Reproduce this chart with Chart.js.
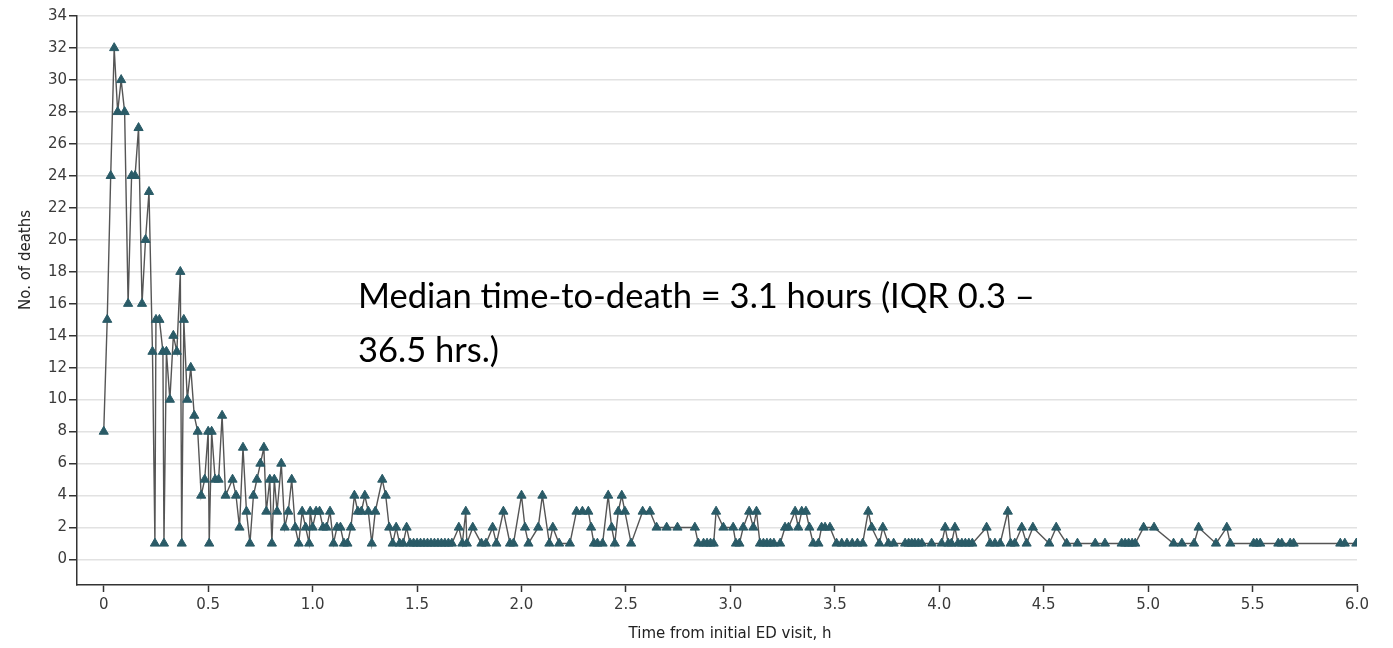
<!DOCTYPE html>
<html>
<head>
<meta charset="utf-8">
<script src="https://cdn.jsdelivr.net/npm/chart.js@4.4.1/dist/chart.umd.min.js"></script>
<style>
  html, body { margin: 0; padding: 0; background: #ffffff; }
  #wrap { position: relative; width: 1393px; height: 648px; }
  #note {
    position: absolute; left: 358px; top: 268px;
    font-family: Lato, "Open Sans", sans-serif; font-size: 34.5px; line-height: 54px;
    color: #000; white-space: nowrap;
  }
  .axis-title {
    position: absolute; white-space: nowrap; color: #222;
    font-family: "DejaVu Sans", sans-serif; font-size: 15px; line-height: 18px;
  }
  #ytitle { left: 25px; top: 260px; transform: translate(-50%, -50%) rotate(-90deg); }
  #xtitle { left: 730px; top: 633px; transform: translate(-50%, -50%); }
</style>
</head>
<body>
<div id="wrap">
  <canvas id="c" width="1393" height="648"></canvas>
  <div id="note">Median time-to-death = 3.1 hours (IQR 0.3 –<br>36.5 hrs.)</div>
  <div id="ytitle" class="axis-title"></div>
  <div id="xtitle" class="axis-title"></div>
</div>
<script>
// Time from initial ED visit, in minutes
const timeMin = [
  0, 1, 2, 3, 4, 5, 6, 7, 8, 9, 10, 11, 12, 13, 14, 14.7, 15, 16, 17, 17.3,
  18, 19, 20, 21, 22, 22.4, 23, 24, 25, 26, 27, 28, 29, 30, 30.3, 31, 32, 33, 34, 35,
  37, 38, 39, 40, 41, 42, 43, 44, 45, 46, 46.7, 47.7, 48.3, 49, 49.8, 51, 52, 53, 54, 55,
  56, 57, 58, 59, 59.3, 60, 61, 62, 63, 64, 65, 66, 67, 68, 69, 70, 71, 72, 73, 74,
  75, 76, 77, 78, 80, 81, 82, 83, 84, 85, 86, 87, 88, 89, 90, 91, 92, 93, 94, 95,
  96, 97, 98, 99, 100, 102, 103, 104, 104.3, 106, 108.5, 109.8, 111.7, 112.8, 114.8, 116.7, 117.7, 120, 121, 122,
  124.8, 126, 128, 129, 130.8, 133.9, 135.8, 137.5, 139.2, 140, 140.8, 141.8, 143.3, 144.9, 145.9, 146.8, 147.8, 148.8, 149.7, 151.5,
  154.8, 156.9, 158.8, 161.7, 164.8, 169.8, 170.8, 172.3, 173.3, 174.3, 175.2, 175.9, 178, 180.8, 181.6, 182.6, 183.7, 185.4, 186.6, 187.5,
  188.5, 189.5, 190.5, 191.5, 192.5, 194.3, 195.7, 196.7, 198.6, 199.5, 200.5, 201.7, 202.7, 203.8, 205.3, 206.2, 207.2, 208.6, 210.5, 212,
  213.5, 215, 216.5, 218, 219.6, 220.6, 222.8, 223.8, 225.4, 226.9, 230.2, 231.2, 232.1, 233, 234, 235, 237.8, 240.7, 241.7, 242.6,
  243.5, 244.5, 245.4, 246.5, 247.5, 248.5, 249.5, 253.6, 254.6, 256, 257.5, 259.7, 260.5, 261.7, 263.7, 265.1, 266.9, 271.6, 273.6, 276.6,
  279.7, 284.8, 287.6, 292.4, 293.4, 294.4, 295.4, 296.3, 298.7, 301.7, 307.3, 309.7, 313.2, 314.5, 319.5, 322.6, 323.6, 330.3, 331.2, 332.2,
  337.4, 338.4, 340.8, 341.8, 355.2, 356.5, 359.8
];
// Number of deaths at each time
const deaths = [
  8, 15, 24, 32, 28, 30, 28, 16, 24, 24, 27, 16, 20, 23, 13, 1, 15, 15, 13, 1,
  13, 10, 14, 13, 18, 1, 15, 10, 12, 9, 8, 4, 5, 8, 1, 8, 5, 5, 9, 4,
  5, 4, 2, 7, 3, 1, 4, 5, 6, 7, 3, 5, 1, 5, 3, 6, 2, 3, 5, 2,
  1, 3, 2, 1, 3, 2, 3, 3, 2, 2, 3, 1, 2, 2, 1, 1, 2, 4, 3, 3,
  4, 3, 1, 3, 5, 4, 2, 1, 2, 1, 1, 2, 1, 1, 1, 1, 1, 1, 1, 1,
  1, 1, 1, 1, 1, 2, 1, 3, 1, 2, 1, 1, 2, 1, 3, 1, 1, 4, 2, 1,
  2, 4, 1, 2, 1, 1, 3, 3, 3, 2, 1, 1, 1, 4, 2, 1, 3, 4, 3, 1,
  3, 3, 2, 2, 2, 2, 1, 1, 1, 1, 1, 3, 2, 2, 1, 1, 2, 3, 2, 3,
  1, 1, 1, 1, 1, 1, 2, 2, 3, 2, 3, 3, 2, 1, 1, 2, 2, 2, 1, 1,
  1, 1, 1, 1, 3, 2, 1, 2, 1, 1, 1, 1, 1, 1, 1, 1, 1, 1, 2, 1,
  1, 2, 1, 1, 1, 1, 1, 2, 1, 1, 1, 3, 1, 1, 2, 1, 2, 1, 2, 1,
  1, 1, 1, 1, 1, 1, 1, 1, 2, 2, 1, 1, 1, 2, 1, 2, 1, 1, 1, 1,
  1, 1, 1, 1, 1, 1, 1
];
// Axis settings
const xTickStep = 0.5;
const yTickStep = 2;
const xLabel = 'Time from initial ED visit, h';
const yLabel = 'No. of deaths';

document.getElementById('xtitle').textContent = xLabel;
document.getElementById('ytitle').textContent = yLabel;

const points = timeMin.map((t, i) => ({ x: t / 60, y: deaths[i] }));

const tickFont = { family: '"DejaVu Sans", sans-serif', size: 15 };

new Chart(document.getElementById('c'), {
  type: 'line',
  data: {
    datasets: [{
      data: points,
      borderColor: '#555555',
      borderWidth: 1.4,
      pointStyle: 'triangle',
      pointRadius: 5.3,
      pointBackgroundColor: '#2a5b67',
      pointBorderColor: '#2a5b67',
      pointBorderWidth: 1,
      tension: 0,
      fill: false
    }]
  },
  options: {
    responsive: false,
    animation: false,
    events: [],
    layout: { padding: { top: 16, right: 36, left: 0, bottom: 0 } },
    plugins: { legend: { display: false }, tooltip: { enabled: false } },
    scales: {
      x: {
        type: 'linear',
        min: -0.128,
        max: 6.0,
        border: { color: '#333', width: 1.5 },
        grid: { drawOnChartArea: false, tickColor: '#333', tickLength: 7, tickWidth: 1.5 },
        ticks: {
          stepSize: xTickStep, includeBounds: false, autoSkip: false, maxRotation: 0,
          color: '#3a3a3a', font: tickFont, padding: 4,
          callback: v => (v === 0 ? '0' : v.toFixed(1))
        },
        title: { display: false },
        afterFit: s => { s.height = 63; }
      },
      y: {
        type: 'linear',
        min: -1.6,
        max: 34,
        border: { color: '#333', width: 1.5 },
        grid: { color: '#e2e2e2', lineWidth: 1.5, tickColor: '#333', tickLength: 8, tickWidth: 1.5 },
        ticks: {
          stepSize: yTickStep, includeBounds: false, autoSkip: false,
          color: '#3a3a3a', font: tickFont, padding: 2
        },
        title: { display: false },
        afterFit: s => { s.width = 77; }
      }
    }
  }
});
</script>
</body>
</html>
